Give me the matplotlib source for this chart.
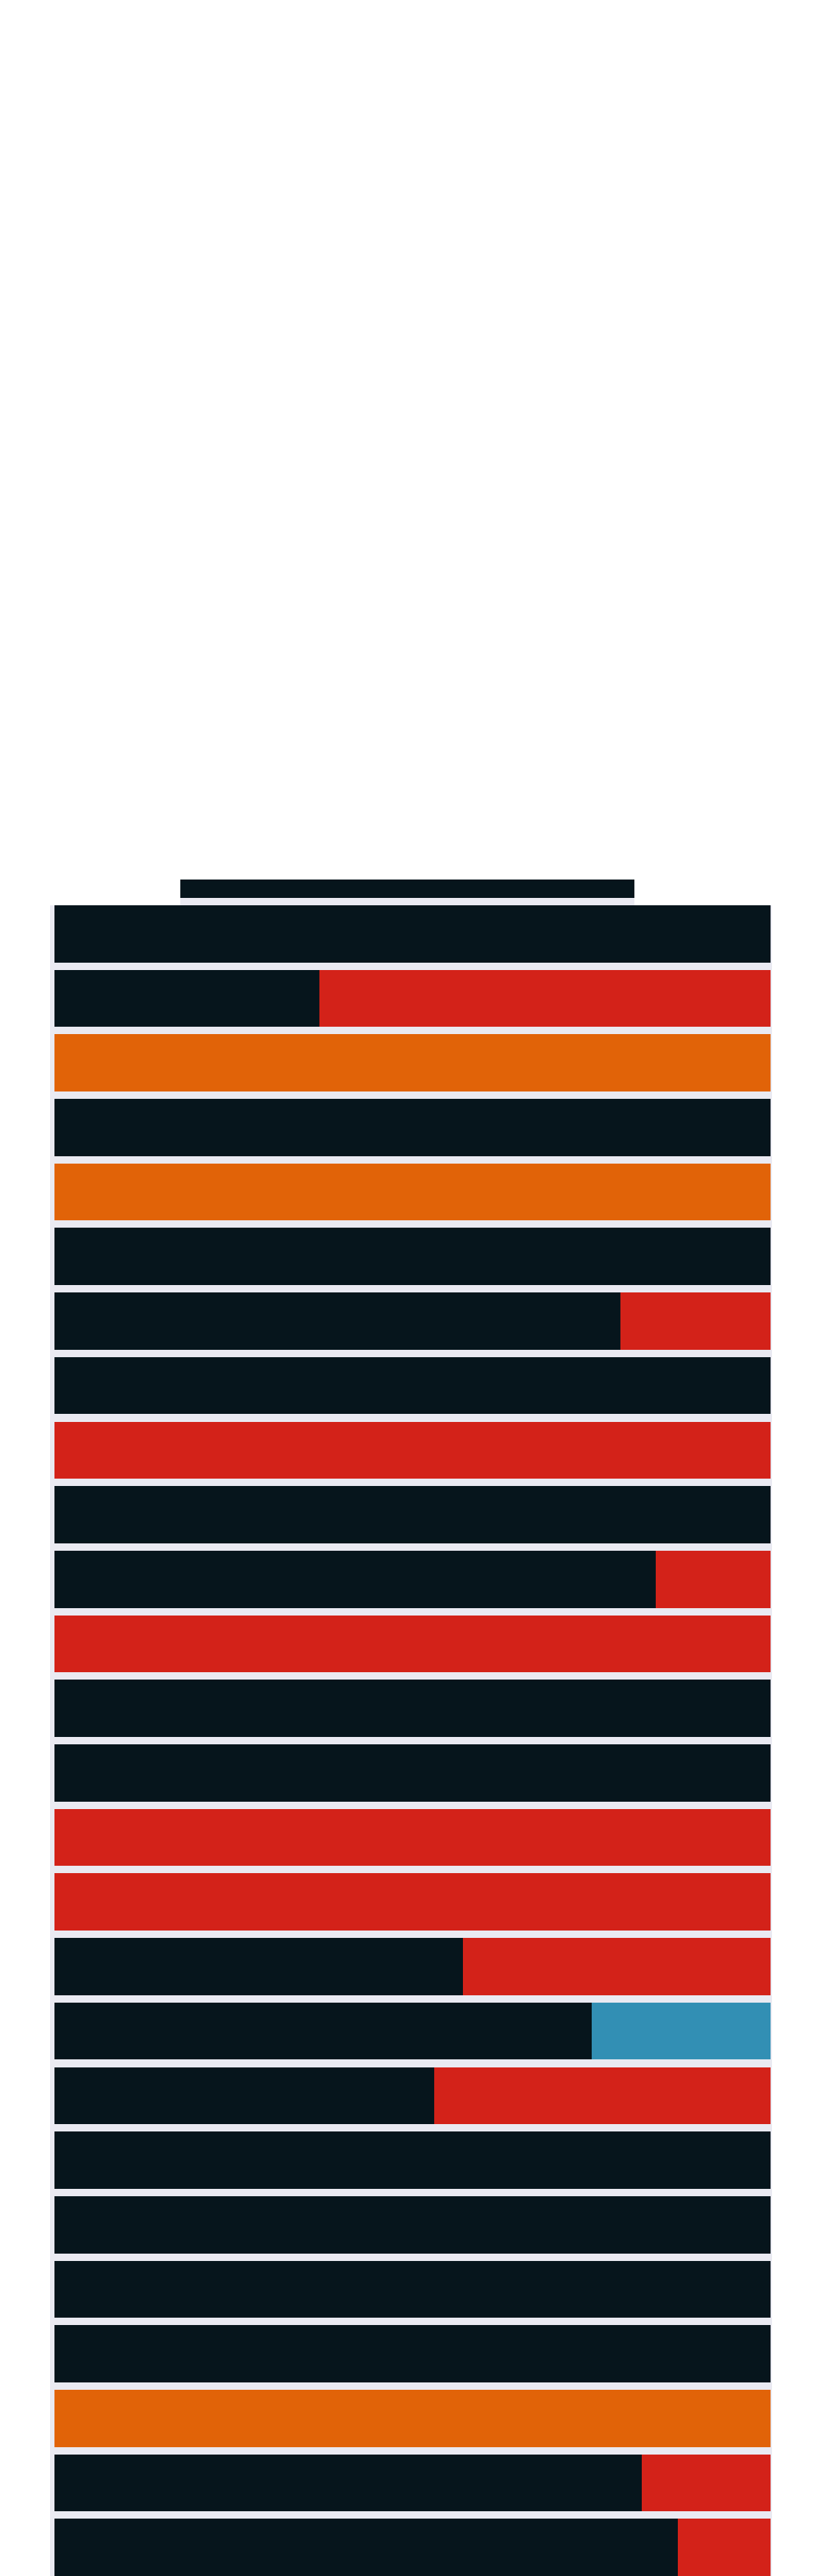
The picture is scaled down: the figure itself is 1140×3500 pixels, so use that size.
import numpy as np
import matplotlib.pyplot as plt

# Données (parts en %, une ligne par barre, de haut en bas)
noir = [100, 100, 37, 0, 100, 0, 100, 79, 100, 0, 100, 84, 0, 100, 100, 0, 0, 57, 75, 53, 100, 100, 100, 100, 0, 82, 87]
rouge = [0, 0, 63, 0, 0, 0, 0, 21, 0, 100, 0, 16, 100, 0, 0, 100, 100, 43, 0, 47, 0, 0, 0, 0, 0, 18, 13]
orange = [0, 0, 0, 100, 0, 100, 0, 0, 0, 0, 0, 0, 0, 0, 0, 0, 0, 0, 0, 0, 0, 0, 0, 0, 100, 0, 0]
bleu = [0, 0, 0, 0, 0, 0, 0, 0, 0, 0, 0, 0, 0, 0, 0, 0, 0, 0, 25, 0, 0, 0, 0, 0, 0, 0, 0]

series = [noir, rouge, orange, bleu]
couleurs = ["#06151c", "#d32219", "#e16308", "#328fb4"]

pos = np.arange(len(noir)) - 1  # la première ligne dépasse au-dessus du cadre
hauteur = 0.885
fond = "#eaeaf2"

W, H = 1140, 3500
fig = plt.figure(figsize=(W / 100, H / 100), dpi=100)

# Cadre principal (en pixels)
x0, x1, y_haut = 68, 1049, 1230
b0, b1 = 74, 1047  # début / fin des barres à 0 et 100 %
ax = fig.add_axes([x0 / W, 0, (x1 - x0) / W, (H - y_haut) / H])

# Petite fenêtre au-dessus du cadre
fx0, fx1, fy0 = 245, 862, 1195
ax2 = fig.add_axes([fx0 / W, (H - y_haut) / H, (fx1 - fx0) / W, (y_haut - fy0) / H])


def dessiner(a):
    gauche = np.zeros(len(noir))
    for vals, c in zip(series, couleurs):
        vals = np.array(vals, dtype=float)
        a.barh(pos, vals, left=gauche, height=hauteur, color=c, linewidth=0)
        gauche += vals
    a.set_facecolor(fond)
    for s in a.spines.values():
        s.set_visible(False)
    a.set_xticks([])
    a.set_yticks([])


px_x = (b1 - b0) / 100

dessiner(ax)
ax.set_xlim((x0 - b0) / px_x, (x1 - b0) / px_x)
y_bas = pos[-1] + hauteur / 2
y_top = 0 - hauteur / 2
ax.set_ylim(y_bas, y_top)

# même échelle que le cadre principal
px_y = (H - y_haut) / (y_bas - y_top)
dessiner(ax2)
ax2.set_xlim((fx0 - b0) / px_x, (fx1 - b0) / px_x)
ax2.set_ylim(y_top, y_top - (y_haut - fy0) / px_y)

fig.savefig("out.png", dpi=100, facecolor="white")
